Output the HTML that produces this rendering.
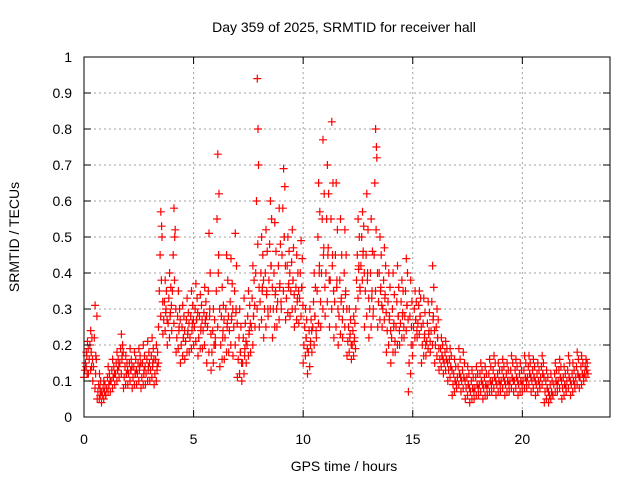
<!DOCTYPE html>
<html><head><meta charset="utf-8"><style>
html,body{margin:0;padding:0;background:#fff;}
svg{display:block;font-family:"Liberation Sans",sans-serif;}
</style></head><body>
<svg id="chart" width="640" height="480" viewBox="0 0 640 480" xmlns="http://www.w3.org/2000/svg">
<rect width="640" height="480" fill="#fff"/>
<text x="344" y="32" font-size="14" text-anchor="middle">Day 359 of 2025, SRMTID for receiver hall</text>
<g id="grid"></g>
<g id="points"></g>
<g id="axes"></g>
<text x="344" y="471" font-size="14" text-anchor="middle">GPS time / hours</text>
<text x="0" y="0" font-size="14" text-anchor="middle" transform="translate(19,237) rotate(-90)">SRMTID / TECUs</text>
</svg>
<script>
const xTicks = [0,5,10,15,20];
const yTicks = [0,0.1,0.2,0.3,0.4,0.5,0.6,0.7,0.8,0.9,1];
const yTickLabels = ["0","0.1","0.2","0.3","0.4","0.5","0.6","0.7","0.8","0.9","1"];
const hours = [0,0.2,0.4,0.6,0.8,1.0,1.2,1.4,1.6,1.8,2.0,2.2,2.4,2.6,2.8,3.0,3.2,3.4,3.6,3.8,4.0,4.2,4.4,4.6,4.8,5.0,5.2,5.4,5.6,5.8,6.0,6.2,6.4,6.6,6.8,7.0,7.2,7.4,7.6,7.8,8.0,8.2,8.4,8.6,8.8,9.0,9.2,9.4,9.6,9.8,10.0,10.2,10.4,10.6,10.8,11.0,11.2,11.4,11.6,11.8,12.0,12.2,12.4,12.6,12.8,13.0,13.2,13.4,13.6,13.8,14.0,14.2,14.4,14.6,14.8,15.0,15.2,15.4,15.6,15.8,16.0,16.2,16.4,16.6,16.8,17.0,17.2,17.4,17.6,17.8,18.0,18.2,18.4,18.6,18.8,19.0,19.2,19.4,19.6,19.8,20.0,20.2,20.4,20.6,20.8,21.0,21.2,21.4,21.6,21.8,22.0,22.2,22.4,22.6,22.8];
const srmtid = [
[.11,.13,.15,.18,.12],[.12,.16,.20,.24,.14],[.10,.14,.22,.31,.17],[.05,.07,.09,.12,.06],[.04,.06,.08,.10,.07],
[.06,.08,.11,.14,.09],[.07,.10,.13,.16,.11],[.09,.12,.15,.18,.13],[.11,.15,.19,.23,.17],[.08,.11,.14,.17,.12],
[.09,.12,.15,.19,.13],[.08,.11,.14,.18,.12],[.09,.12,.15,.19,.14],[.08,.11,.15,.20,.13],[.09,.12,.16,.21,.14],
[.10,.13,.17,.22,.15],[.09,.12,.16,.20,.14],[.25,.35,.45,.57,.53],[.23,.27,.32,.38,.30],[.20,.26,.33,.40,.29],
[.24,.35,.45,.58,.50],[.18,.22,.28,.35,.25],[.15,.20,.25,.31,.22],[.16,.21,.27,.33,.24],[.18,.22,.28,.35,.26],
[.20,.25,.30,.37,.27],[.17,.22,.28,.34,.25],[.19,.24,.29,.36,.27],[.15,.25,.35,.51,.30],[.13,.18,.24,.30,.20],
[.20,.35,.55,.73,.45],[.14,.20,.28,.36,.24],[.16,.22,.30,.45,.26],[.18,.24,.32,.44,.28],[.17,.25,.35,.51,.30],
[.11,.16,.22,.30,.18],[.10,.15,.22,.33,.19],[.15,.20,.28,.35,.24],[.18,.25,.33,.42,.28],[.25,.40,.60,.94,.80],
[.25,.32,.40,.50,.36],[.22,.30,.40,.52,.35],[.28,.38,.48,.60,.42],[.22,.30,.40,.54,.35],[.25,.32,.42,.58,.37],
[.30,.45,.58,.69,.50],[.27,.33,.42,.50,.37],[.28,.35,.43,.52,.38],[.25,.30,.36,.45,.33],[.26,.33,.40,.49,.36],
[.15,.20,.25,.30,.22],[.12,.18,.24,.30,.21],[.18,.25,.32,.40,.28],[.22,.35,.50,.65,.42],[.25,.40,.55,.77,.47],
[.28,.40,.55,.70,.47],[.25,.38,.55,.82,.45],[.22,.32,.45,.65,.38],[.20,.28,.38,.55,.33],[.22,.30,.40,.52,.35],
[.17,.21,.25,.30,.23],[.16,.20,.24,.28,.22],[.30,.38,.45,.55,.42],[.35,.42,.50,.57,.46],[.25,.35,.45,.62,.40],
[.22,.30,.40,.55,.35],[.30,.45,.65,.80,.75],[.25,.32,.40,.50,.36],[.25,.30,.38,.47,.34],[.18,.24,.32,.40,.28],
[.15,.22,.30,.40,.26],[.18,.25,.32,.42,.28],[.20,.26,.32,.38,.29],[.22,.28,.35,.44,.31],[.07,.15,.28,.38,.25],
[.20,.25,.30,.35,.27],[.22,.26,.31,.35,.28],[.15,.20,.26,.33,.23],[.17,.21,.26,.32,.24],[.18,.24,.32,.42,.28],
[.15,.20,.25,.30,.22],[.13,.16,.19,.22,.17],[.12,.15,.18,.21,.16],[.10,.13,.16,.19,.14],[.06,.09,.12,.16,.10],
[.08,.11,.14,.19,.12],[.07,.10,.13,.18,.11],[.05,.08,.11,.14,.09],[.04,.07,.10,.13,.08],[.05,.08,.11,.14,.09],
[.06,.09,.12,.15,.10],[.05,.08,.11,.14,.09],[.06,.09,.12,.16,.10],[.07,.10,.13,.17,.11],[.06,.09,.12,.15,.10],
[.07,.10,.13,.16,.11],[.06,.09,.12,.15,.10],[.07,.10,.13,.17,.11],[.07,.10,.13,.16,.11],[.06,.09,.12,.15,.10],
[.07,.10,.13,.17,.11],[.08,.11,.14,.17,.12],[.07,.10,.13,.16,.11],[.06,.09,.12,.15,.10],[.08,.11,.14,.17,.12],
[.04,.07,.10,.13,.08],[.04,.06,.09,.12,.07],[.06,.09,.12,.15,.10],[.07,.10,.13,.16,.11],[.05,.08,.11,.14,.09],
[.07,.10,.13,.17,.11],[.06,.09,.12,.15,.10],[.08,.11,.14,.18,.12],[.08,.11,.14,.17,.12],[.10,.12,.14,.16,.13]
];
const srmtidB = [
[.14,.17,.21,.19],[.13,.18,.22,.16],[.08,.12,.16,.28],[.05,.08,.10,.07],[.05,.07,.09,.06],
[.07,.09,.12,.10],[.08,.11,.14,.12],[.10,.13,.16,.14],[.12,.16,.20,.18],[.09,.12,.15,.13],
[.10,.13,.16,.14],[.09,.12,.16,.13],[.10,.13,.17,.15],[.09,.12,.17,.14],[.10,.13,.18,.15],
[.11,.14,.19,.16],[.10,.13,.18,.15],[.28,.38,.50,.32],[.24,.29,.35,.27],[.22,.28,.36,.31],
[.26,.38,.52,.30],[.19,.24,.30,.27],[.17,.22,.28,.24],[.18,.23,.29,.26],[.19,.24,.31,.27],
[.21,.27,.33,.29],[.19,.24,.31,.27],[.20,.26,.32,.28],[.18,.28,.40,.23],[.15,.20,.27,.22],
[.25,.40,.62,.30],[.16,.22,.31,.27],[.18,.25,.38,.28],[.20,.27,.37,.30],[.20,.29,.42,.26],
[.12,.18,.25,.15],[.12,.17,.26,.21],[.17,.23,.31,.26],[.20,.28,.38,.31],[.30,.48,.70,.36],
[.27,.35,.45,.38],[.25,.34,.46,.30],[.30,.42,.55,.36],[.25,.34,.46,.30],[.27,.36,.48,.32],
[.35,.50,.64,.42],[.29,.36,.46,.40],[.30,.38,.47,.34],[.27,.32,.40,.35],[.28,.36,.44,.31],
[.17,.22,.27,.19],[.14,.20,.27,.24],[.20,.28,.36,.24],[.26,.40,.57,.32],[.30,.45,.62,.36],
[.32,.45,.62,.38],[.30,.42,.65,.35],[.25,.36,.52,.30],[.23,.32,.45,.27],[.25,.34,.45,.30],
[.18,.22,.27,.20],[.17,.21,.26,.19],[.33,.41,.50,.36],[.38,.45,.53,.40],[.28,.38,.52,.33],
[.25,.33,.46,.28],[.35,.52,.72,.40],[.27,.35,.45,.31],[.27,.33,.42,.29],[.20,.27,.36,.24],
[.18,.25,.34,.21],[.20,.28,.36,.24],[.22,.28,.35,.25],[.24,.31,.40,.27],[.12,.20,.32,.17],
[.22,.27,.32,.24],[.23,.28,.33,.25],[.17,.22,.29,.20],[.19,.23,.29,.21],[.20,.27,.36,.24],
[.17,.22,.27,.19],[.14,.17,.20,.16],[.13,.16,.19,.15],[.11,.14,.17,.13],[.07,.10,.14,.09],
[.09,.12,.16,.11],[.08,.11,.15,.10],[.06,.09,.12,.08],[.05,.08,.11,.07],[.06,.09,.12,.08],
[.07,.10,.13,.09],[.06,.09,.12,.08],[.07,.10,.14,.09],[.08,.11,.15,.10],[.07,.10,.13,.09],
[.08,.11,.14,.10],[.07,.10,.13,.09],[.08,.11,.15,.10],[.08,.11,.14,.10],[.07,.10,.13,.09],
[.08,.11,.15,.10],[.09,.12,.15,.11],[.08,.11,.14,.10],[.07,.10,.13,.09],[.09,.12,.15,.11],
[.05,.08,.11,.07],[.05,.07,.10,.06],[.07,.10,.13,.09],[.08,.11,.14,.10],[.06,.09,.12,.08],
[.08,.11,.15,.10],[.07,.10,.13,.09],[.09,.12,.16,.11],[.09,.12,.15,.11],[.11,.13,.15,.12]
];
const L=84,R=610,T=57,B=417,XMAX=24,YMAX=1;
const NS="http://www.w3.org/2000/svg";
function xs(h){return L+(R-L)*h/XMAX;}
function ys(v){return B-(B-T)*v/YMAX;}
function mk(tag,attrs,parent){const e=document.createElementNS(NS,tag);for(const k in attrs)e.setAttribute(k,attrs[k]);parent.appendChild(e);return e;}
const grid=document.getElementById('grid'),axes=document.getElementById('axes'),pts=document.getElementById('points');
yTicks.forEach((v,i)=>{
  const y=ys(v);
  if(v>0&&v<YMAX){const g=mk('line',{x1:L,x2:R,y1:y,y2:y,stroke:'#a0a0a0','stroke-dasharray':'2,3','stroke-width':1},grid);
  
  }
  const t1=mk('line',{x1:L,x2:L+7,y1:y,y2:y,stroke:'#000'},axes);
  
  
  const t2=mk('line',{x1:R-7,x2:R,y1:y,y2:y,stroke:'#000'},axes);
  
  
  const lb=mk('text',{x:L-12,y:y+5,'font-size':14,'text-anchor':'end'},axes);
  lb.textContent=yTickLabels[i];
  
  
});
xTicks.forEach(h=>{
  const x=xs(h);
  if(h>0){const g=mk('line',{x1:x,x2:x,y1:T,y2:B,stroke:'#a0a0a0','stroke-dasharray':'2,3','stroke-width':1},grid);
  
  }
  const t1=mk('line',{x1:x,x2:x,y1:B,y2:B-7,stroke:'#000'},axes);
  
  
  const t2=mk('line',{x1:x,x2:x,y1:T,y2:T+7,stroke:'#000'},axes);
  
  
  const lb=mk('text',{x:x,y:B+27,'font-size':14,'text-anchor':'middle'},axes);
  lb.textContent=String(h);
  
  
});
const frame=mk('rect',{x:L,y:T,width:R-L,height:B-T,fill:'none',stroke:'#000','stroke-width':1},axes);


let d='';
function plus(h,v){const x=xs(h),y=ys(v);d+=`M${(x-4).toFixed(1)} ${y.toFixed(1)}h8M${x.toFixed(1)} ${(y-4).toFixed(1)}v8`;}
hours.forEach((h,i)=>{
  srmtid[i].forEach((v,j)=>plus(h+j*0.035,v));
  srmtidB[i].forEach((v,j)=>plus(h+0.1+j*0.03,v));
});
const p=mk('path',{d:d,stroke:'#ff0000','stroke-width':1.2,fill:'none'},pts);


</script>
</body></html>
